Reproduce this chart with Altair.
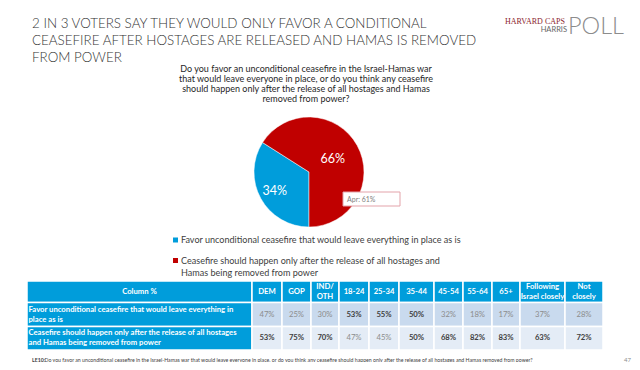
import math
import altair as alt
import pandas as pd

# ---------------- data ----------------
title_text = ("2 IN 3 VOTERS SAY THEY WOULD ONLY FAVOR A CONDITIONAL\n"
              "CEASEFIRE AFTER HOSTAGES ARE RELEASED AND HAMAS IS REMOVED\n"
              "FROM POWER")
question_text = ("Do you favor an unconditional ceasefire in the Israel-Hamas war\n"
                 "that would leave everyone in place, or do you think any ceasefire\n"
                 "should happen only after the release of all hostages and Hamas\n"
                 "removed from power?")
categories = [
    "Favor unconditional ceasefire that would leave everything in place as is",
    "Ceasefire should happen only after the release of all hostages and Hamas being removed from power",
]
legend_labels = [
    "Favor unconditional ceasefire that would leave everything in place as is",
    "Ceasefire should happen only after the release of all hostages and\nHamas being removed from power",
]
shares = [34, 66]
april_note = "Apr: 61%"

groups = ["DEM", "GOP", "IND/OTH", "18-24", "25-34", "35-44", "45-54", "55-64", "65+",
          "Following Israel closely", "Not closely"]
header_labels = ["DEM", "GOP", "IND/\nOTH", "18-24", "25-34", "35-44", "45-54", "55-64", "65+",
                 "Following\nIsrael closely", "Not\nclosely"]
corner_label = "Column %"
row_labels = ["Favor unconditional ceasefire that would leave everything in\nplace as is",
              "Ceasefire should happen only after the release of all hostages\nand Hamas being removed from power"]
favor_unconditional = [47, 25, 30, 53, 55, 50, 32, 18, 17, 37, 28]
ceasefire_after = [53, 75, 70, 47, 45, 50, 68, 82, 83, 63, 72]

footer_code = "LE10:"
footer_text = ("Do you favor an unconditional ceasefire in the Israel-Hamas war that would leave everyone "
               "in place, or do you think any ceasefire should happen only after the release of all "
               "hostages and Hamas removed from power?")
page_number = "47"

# ---------------- layout / style ----------------
FONT = "Lato"
BLUE = "#009DDB"
RED = "#C00000"
W, H = 624, 354
OX, OY = 8, 8
TBL_FS = 7.7
TBL_LH = 10


def px(v):
    return v - OX


def py(v):
    return v - OY


col_edges = [27, 252, 282, 311, 339, 369, 399, 434, 463, 492, 520, 565, 603]
row_edges = [281, 302.5, 326.5, 350]

# table cells built from the data lists
value_rows = [favor_unconditional, ceasefire_after]
recs = []
for r in range(3):
    for c in range(len(col_edges) - 1):
        x0, x1 = col_edges[c], col_edges[c + 1]
        y0, y1 = row_edges[r], row_edges[r + 1]
        if r == 0:
            kind = "header"
            text = corner_label if c == 0 else header_labels[c - 1]
            style = "head"
        elif c == 0:
            kind = "label"
            text = row_labels[r - 1]
            style = "label"
        else:
            v = value_rows[r - 1][c - 1]
            kind = f"r{r}"
            text = f"{v}%"
            style = "bold" if v >= 50 else "plain"
        nlines = text.count("\n") + 1
        yc = (y0 + y1) / 2
        recs.append(dict(x0=x0, x1=x1, y0=y0, y1=y1, xc=(x0 + x1) / 2,
                         xl=x0 + 1.5, yt=yc - (nlines - 1) * TBL_LH / 2,
                         kind=kind, text=text, style=style))
cells = pd.DataFrame(recs)

xs = alt.Scale(domain=[OX, OX + W], range=[0, W], nice=False, zero=False)
ys = alt.Scale(domain=[OY, OY + H], range=[0, H], nice=False, zero=False)

tbl = alt.Chart(cells)
rects = tbl.mark_rect(stroke="white", strokeWidth=1.5).encode(
    x=alt.X("x0:Q", scale=xs, axis=None), x2="x1:Q",
    y=alt.Y("y0:Q", scale=ys, axis=None), y2="y1:Q",
    color=alt.Color("kind:N", scale=alt.Scale(domain=["header", "label", "r1", "r2"],
                                              range=[BLUE, BLUE, "#C9DAEE", "#E4ECF6"]),
                    legend=None),
)
head_txt = tbl.transform_filter("datum.style == 'head'").mark_text(
    font=FONT, fontSize=TBL_FS, fontWeight="bold", color="white", align="center",
    baseline="middle", lineBreak="\n", lineHeight=TBL_LH).encode(
    x=alt.X("xc:Q", scale=xs, axis=None), y=alt.Y("yt:Q", scale=ys, axis=None), text="text:N")
label_txt = tbl.transform_filter("datum.style == 'label'").mark_text(
    font=FONT, fontSize=TBL_FS, fontWeight="bold", color="white", align="left",
    baseline="middle", lineBreak="\n", lineHeight=TBL_LH).encode(
    x=alt.X("xl:Q", scale=xs, axis=None), y=alt.Y("yt:Q", scale=ys, axis=None), text="text:N")
bold_txt = tbl.transform_filter("datum.style == 'bold'").mark_text(
    font=FONT, fontSize=TBL_FS, fontWeight="bold", color="#404040", align="center",
    baseline="middle").encode(
    x=alt.X("xc:Q", scale=xs, axis=None), y=alt.Y("yt:Q", scale=ys, axis=None), text="text:N")
plain_txt = tbl.transform_filter("datum.style == 'plain'").mark_text(
    font=FONT, fontSize=TBL_FS, color="#8C8C8C", align="center", baseline="middle").encode(
    x=alt.X("xc:Q", scale=xs, axis=None), y=alt.Y("yt:Q", scale=ys, axis=None), text="text:N")

# pie
pie_df = pd.DataFrame({"category": categories, "share": shares, "ord": [0, 1],
                       "label": [f"{s}%" for s in shares]})
theta_scale = alt.Scale(range=[math.pi, 3 * math.pi])
CX, CY, R = 309, 172, 55
pie = alt.Chart(pie_df).mark_arc(outerRadius=R, stroke="white", strokeWidth=0.5).encode(
    theta=alt.Theta("share:Q", stack=True, scale=theta_scale),
    color=alt.Color("category:N", scale=alt.Scale(domain=categories, range=[BLUE, RED]), legend=None),
    order=alt.Order("ord:Q"),
    x=alt.value(px(CX)), y=alt.value(py(CY)),
)


def pie_label(idx, radius):
    return alt.Chart(pie_df).mark_text(font=FONT, fontSize=12.5, color="white",
                                       baseline="middle", align="center", radius=radius).encode(
        theta=alt.Theta("share:Q", stack=True, scale=theta_scale),
        text=alt.condition(f"datum.ord == {idx}", "label:N", alt.value("")),
        order=alt.Order("ord:Q"),
        x=alt.value(px(CX)), y=alt.value(py(CY)),
    )


pie_lab_blue = pie_label(0, 39)
pie_lab_red = pie_label(1, 27)

one = pd.DataFrame({"k": [0]})
note_box = alt.Chart(one).mark_rect(fill="white", stroke="#E3A3AA", strokeWidth=1).encode(
    x=alt.value(px(343)), x2=alt.value(px(400)), y=alt.value(py(192)), y2=alt.value(py(206)))
note_txt = alt.Chart(one).mark_text(font=FONT, fontSize=7, color="#7F7F7F", align="left",
                                    baseline="middle").encode(
    x=alt.value(px(347)), y=alt.value(py(199.5)), text=alt.value(april_note))

title = alt.Chart(one).mark_text(font=FONT, fontSize=13.4, fontWeight=300, color="#333333",
                                 align="left", baseline="alphabetic", lineBreak="\n",
                                 lineHeight=17.3).encode(
    x=alt.value(px(32)), y=alt.value(py(27.5)), text=alt.value(title_text))
question = alt.Chart(one).mark_text(font=FONT, fontSize=9, color="#1F1F1F", align="center",
                                    baseline="alphabetic", lineBreak="\n", lineHeight=10).encode(
    x=alt.value(px(306)), y=alt.value(py(71.5)), text=alt.value(question_text))

# logo
logo1 = alt.Chart(one).mark_text(font="Liberation Serif", fontSize=8, color="#8C1D2E",
                                 align="left", baseline="middle").encode(
    x=alt.value(px(505)), y=alt.value(py(21.5)), text=alt.value("HARVARD CAPS"))
logo2 = alt.Chart(one).mark_text(font=FONT, fontSize=7.5, color="#666666",
                                 align="right", baseline="middle").encode(
    x=alt.value(px(567)), y=alt.value(py(30)), text=alt.value("HARRIS"))
logo3 = alt.Chart(one).mark_text(font=FONT, fontSize=23.5, fontWeight=300, color="#8C8C8C",
                                 align="left", baseline="alphabetic").encode(
    x=alt.value(px(568)), y=alt.value(py(33.5)), text=alt.value("POLL"))

# legend (manual, from categories)
leg_sq1 = alt.Chart(one).mark_square(size=25, color=BLUE, opacity=1).encode(
    x=alt.value(px(175.5)), y=alt.value(py(240)))
leg_sq2 = alt.Chart(one).mark_square(size=25, color=RED, opacity=1).encode(
    x=alt.value(px(175.5)), y=alt.value(py(260.5)))
leg_t1 = alt.Chart(one).mark_text(font=FONT, fontSize=9.05, color="#404040", align="left",
                                  baseline="middle").encode(
    x=alt.value(px(181)), y=alt.value(py(239.5)), text=alt.value(legend_labels[0]))
leg_t2 = alt.Chart(one).mark_text(font=FONT, fontSize=9.05, color="#404040", align="left",
                                  baseline="middle", lineBreak="\n", lineHeight=12).encode(
    x=alt.value(px(181)), y=alt.value(py(260.5)), text=alt.value(legend_labels[1]))

# footer
foot1 = alt.Chart(one).mark_text(font=FONT, fontSize=5.2, fontWeight="bold", color="#404040",
                                 align="left", baseline="middle").encode(
    x=alt.value(px(32)), y=alt.value(py(359.5)), text=alt.value(footer_code))
foot2 = alt.Chart(one).mark_text(font=FONT, fontSize=5.2, color="#404040",
                                 align="left", baseline="middle").encode(
    x=alt.value(px(44.5)), y=alt.value(py(359.5)), text=alt.value(footer_text))
page = alt.Chart(one).mark_text(font=FONT, fontSize=6, color="#8C8C8C",
                                align="right", baseline="middle").encode(
    x=alt.value(px(631)), y=alt.value(py(359.5)), text=alt.value(page_number))

chart = alt.layer(
    rects, head_txt, label_txt, bold_txt, plain_txt,
    pie, pie_lab_blue, pie_lab_red, note_box, note_txt,
    title, question, logo1, logo2, logo3,
    leg_sq1, leg_sq2, leg_t1, leg_t2,
    foot1, foot2, page,
).resolve_scale(color="independent").properties(
    width=W, height=H, padding=0, autosize=alt.AutoSizeParams(type="none"),
    background="white",
).configure_view(stroke=None)

chart.save("out.html", embed_options={"renderer": "svg", "actions": False})
